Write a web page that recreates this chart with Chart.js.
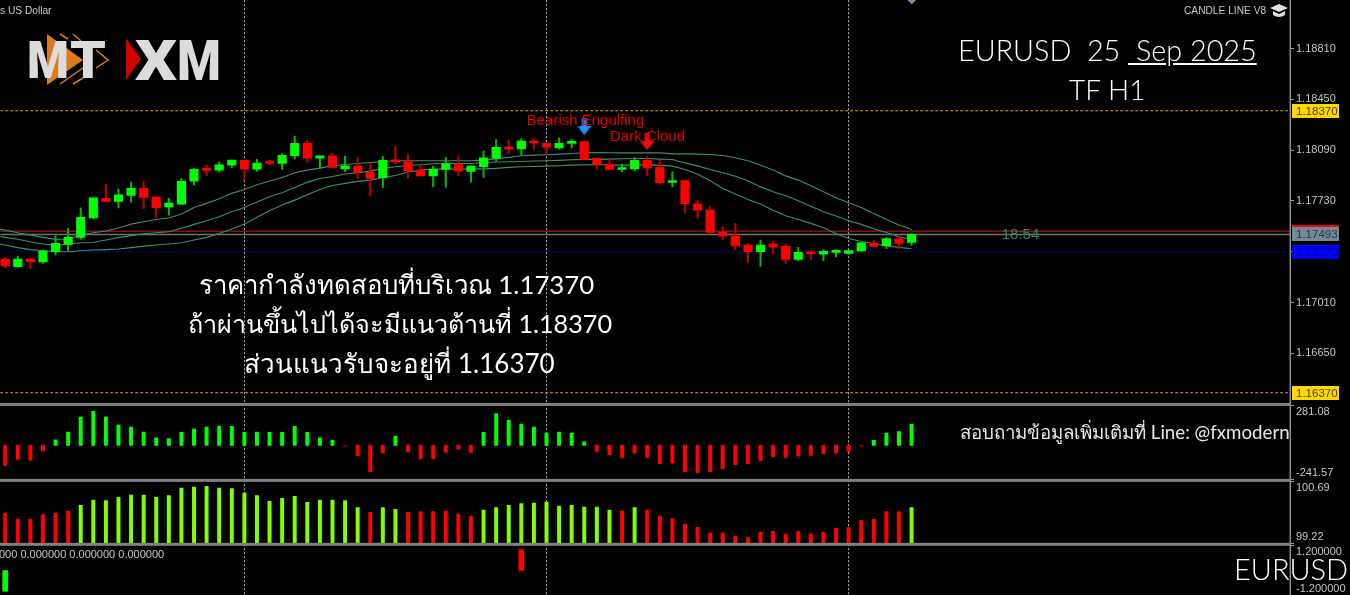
<!DOCTYPE html>
<html><head><meta charset="utf-8">
<script src="https://cdn.jsdelivr.net/npm/chart.js@4"></script>
<style>
html,body{margin:0;padding:0;background:#000;overflow:hidden}
#wrap{position:relative;width:1350px;height:595px}
canvas{position:absolute;left:0;top:0}
.t{position:absolute;color:#fff;white-space:nowrap;font-family:"Lato","Noto Sans",sans-serif;font-weight:300;line-height:1}
.n{font-weight:400}
.s{font-family:"Liberation Sans",sans-serif;color:#c8c8c8}
svg{position:absolute;left:0;top:0}
</style></head><body><div id="wrap">
<canvas id="c" width="1350" height="595"></canvas>
<svg width="1350" height="595" viewBox="0 0 1350 595">
 <polygon points="47,34 83,60 47,85" fill="#de7a1e"/>
 <polyline points="60,34 68,39" fill="none" stroke="#de7a1e" stroke-width="1.5"/>
 <polyline points="73,34 81,41" fill="none" stroke="#de7a1e" stroke-width="1.5"/>
 <polyline points="96,50 108,60 96,68" fill="none" stroke="#de7a1e" stroke-width="1.5"/>
 <polyline points="60,84 83,68" fill="none" stroke="#de7a1e" stroke-width="1.5"/>
 <polyline points="73,84 83,78" fill="none" stroke="#de7a1e" stroke-width="1.5"/>
 <text x="27" y="78" font-family="Roboto" font-weight="900" font-size="52" fill="#dcdcdc" textLength="42" lengthAdjust="spacingAndGlyphs">M</text>
 <text x="70" y="78" font-family="Roboto" font-weight="900" font-size="52" fill="#dcdcdc" textLength="36" lengthAdjust="spacingAndGlyphs">T</text>
 <polygon points="126,38 141,59 126,80" fill="#d40000"/>
 <text x="135" y="80" font-family="Roboto" font-weight="900" font-size="56" fill="#dcdcdc" textLength="42" lengthAdjust="spacingAndGlyphs">X</text>
 <text x="177" y="80" font-family="Roboto" font-weight="900" font-size="56" fill="#dcdcdc" textLength="44" lengthAdjust="spacingAndGlyphs">M</text>
 <path d="M1270 8 L1279 4 L1288 8 L1279 12 Z M1273 11 L1273 15 Q1279 19 1285 15 L1285 11 L1279 14 Z" fill="#e0e0e0"/>
 <polygon points="907.5,0 916,0 911.8,4.5" fill="#7090b0"/>
</svg>
<div class="t s" style="left:0;top:6px;font-size:10.2px">s US Dollar</div>
<div class="t s" style="left:1184px;top:6px;font-size:10.2px">CANDLE LINE V8</div>
<div class="t" style="left:958px;top:36px;font-size:28.8px">EURUSD&nbsp; 25 <u>&nbsp;Sep 2025</u></div>
<div class="t" style="left:1069px;top:75px;font-size:28px">TF H1</div>
<div class="t n" style="left:0;width:793px;text-align:center;top:272px;font-size:25.8px">ราคากำลังทดสอบที่บริเวณ 1.17370</div>
<div class="t n" style="left:0;width:800px;text-align:center;top:311px;font-size:25.2px">ถ้าผ่านขึ้นไปได้จะมีแนวต้านที่ 1.18370</div>
<div class="t n" style="left:0;width:799px;text-align:center;top:350px;font-size:26px">ส่วนแนวรับจะอยู่ที่ 1.16370</div>
<div class="t n" style="left:960px;top:423px;font-size:18.7px;color:#e8e8e8">สอบถามข้อมูลเพิ่มเติมที่ Line: @fxmodern</div>
<div class="t s" style="left:-1px;top:549px;font-size:11px">000 0.000000 0.000000 0.000000</div>
<div class="t" style="left:1234px;top:554px;font-size:29px">EURUSD</div>
</div>
<script>
// ---- data ----
const opens=[1.17318,1.17264,1.17318,1.17297,1.17370,1.17422,1.17472,1.17609,1.17748,1.17727,1.17770,1.17819,1.17758,1.17687,1.17708,1.17871,1.17956,1.17949,1.17984,1.18018,1.17956,1.18006,1.17996,1.18051,1.18138,
1.18034,1.18051,1.17958,1.17977,1.17935,1.17895,1.18018,1.18010,1.17949,1.17907,1.17956,1.17989,1.17940,1.17973,1.18032,1.18110,1.18100,1.18155,1.18138,1.18107,1.18138,1.18152,1.18032,
1.17989,1.17953,1.17958,1.18019,1.17970,1.17861,1.17875,1.17708,1.17665,1.17509,1.17481,1.17417,1.17370,1.17424,1.17408,1.17316,1.17368,1.17353,1.17365,1.17358,1.17375,1.17431,1.17412,1.17462,1.17436];
const highs=[1.17330,1.17340,1.17318,1.17382,1.17481,1.17536,1.17682,1.17753,1.17850,1.17814,1.17864,1.17871,1.17765,1.17748,1.17890,1.17963,1.17984,1.18008,1.18020,1.18018,1.18025,1.18018,1.18067,1.18190,1.18162,
1.18051,1.18069,1.18048,1.18039,1.17996,1.18044,1.18114,1.18060,1.17989,1.17977,1.18039,1.18044,1.17977,1.18084,1.18166,1.18162,1.18173,1.18173,1.18138,1.18178,1.18166,1.18159,1.18032,
1.18031,1.17991,1.18038,1.18043,1.18019,1.17937,1.17875,1.17736,1.17693,1.17547,1.17571,1.17429,1.17453,1.17448,1.17424,1.17401,1.17377,1.17386,1.17386,1.17379,1.17434,1.17450,1.17471,1.17471,1.17500];
const lows=[1.17257,1.17259,1.17252,1.17288,1.17347,1.17377,1.17458,1.17602,1.17727,1.17680,1.17722,1.17675,1.17614,1.17630,1.17703,1.17843,1.17911,1.17935,1.17965,1.17878,1.17940,1.17984,1.17954,1.18029,1.18003,
1.17961,1.17968,1.17937,1.17890,1.17767,1.17826,1.17992,1.17895,1.17907,1.17831,1.17826,1.17909,1.17864,1.17897,1.18013,1.18067,1.18055,1.18098,1.18060,1.18098,1.18107,1.18025,1.17958,
1.17953,1.17937,1.17944,1.17908,1.17849,1.17830,1.17646,1.17608,1.17497,1.17453,1.17382,1.17292,1.17268,1.17358,1.17287,1.17306,1.17316,1.17306,1.17334,1.17351,1.17370,1.17408,1.17391,1.17394,1.17417];
const closes=[1.17269,1.17318,1.17299,1.17375,1.17429,1.17472,1.17614,1.17753,1.17727,1.17774,1.17819,1.17755,1.17682,1.17715,1.17869,1.17954,1.17947,1.17987,1.18020,1.17956,1.17999,1.17996,1.18053,1.18138,1.18034,
1.18051,1.17968,1.17980,1.17932,1.17890,1.18018,1.18008,1.17944,1.17907,1.17954,1.17992,1.17944,1.17977,1.18036,1.18110,1.18098,1.18155,1.18143,1.18112,1.18138,1.18147,1.18025,1.17989,
1.17953,1.17963,1.18019,1.17965,1.17859,1.17875,1.17710,1.17665,1.17507,1.17481,1.17412,1.17370,1.17417,1.17403,1.17316,1.17365,1.17356,1.17372,1.17372,1.17379,1.17434,1.17408,1.17464,1.17429,1.17493];
// the three averages also run off the left edge: first value belongs one bar before the first candle
const maUpper=[1.17535,1.17524,1.17505,1.17488,1.17472,1.17458,1.17460,1.17488,1.17505,1.17517,1.17538,1.17566,1.17583,1.17599,1.17609,1.17637,1.17684,1.17713,1.17746,1.17784,1.17812,1.17845,1.17871,1.17897,1.17930,1.17949,
1.17963,1.17980,1.17989,1.17996,1.18003,1.18010,1.18015,1.18015,1.18015,1.18015,1.18015,1.18015,1.18015,1.18020,1.18029,1.18039,1.18051,1.18055,1.18058,1.18062,1.18067,1.18072,1.18074,
1.18072,1.18071,1.18071,1.18071,1.18071,1.18064,1.18064,1.18062,1.18060,1.18053,1.18036,1.18015,1.17984,1.17949,1.17908,1.17878,1.17838,1.17795,1.17753,1.17717,1.17684,1.17642,1.17599,1.17559,1.17528];
const maMiddle=[1.17486,1.17472,1.17458,1.17441,1.17425,1.17413,1.17425,1.17434,1.17436,1.17453,1.17470,1.17484,1.17498,1.17505,1.17512,1.17536,1.17564,1.17590,1.17618,1.17654,1.17684,1.17722,1.17760,1.17788,1.17826,1.17862,
1.17890,1.17904,1.17921,1.17930,1.17942,1.17961,1.17973,1.17982,1.17987,1.17994,1.17996,1.17996,1.17996,1.18001,1.18006,1.18008,1.18010,1.18013,1.18015,1.18018,1.18022,1.18025,1.18025,
1.18027,1.18029,1.18031,1.18031,1.18027,1.18024,1.18000,1.17979,1.17953,1.17930,1.17906,1.17873,1.17830,1.17795,1.17767,1.17731,1.17693,1.17653,1.17623,1.17590,1.17564,1.17533,1.17507,1.17476,1.17457];
const maLower=[1.17432,1.17418,1.17399,1.17385,1.17377,1.17370,1.17370,1.17377,1.17382,1.17385,1.17389,1.17399,1.17410,1.17418,1.17425,1.17434,1.17453,1.17472,1.17500,1.17531,1.17566,1.17614,1.17661,1.17701,1.17736,1.17774,
1.17812,1.17840,1.17855,1.17869,1.17878,1.17897,1.17911,1.17935,1.17949,1.17956,1.17956,1.17956,1.17956,1.17958,1.17961,1.17968,1.17973,1.17975,1.17977,1.17980,1.17984,1.17987,1.17989,
1.17984,1.17984,1.17984,1.17984,1.17984,1.17977,1.17953,1.17920,1.17873,1.17819,1.17779,1.17741,1.17708,1.17665,1.17625,1.17599,1.17571,1.17540,1.17500,1.17464,1.17443,1.17427,1.17412,1.17401,1.17391];
const cciValues=[-141,-99,-104,-38,40,94,200,240,200,144,129,94,54,49,92,115,129,137,134,92,94,92,92,134,92,54,35,-7,-75,-186,-54,66,-45,-94,-94,-49,-26,-49,92,224,179,151,129,87,94,87,26,-42,-68,-85,-54,-85,-129,-125,-186,-193,-186,-165,-137,-129,-108,-80,-85,-75,-71,-59,-54,-45,-7,35,87,97,151];
const strengthValues=[99.931,99.789,99.789,99.899,99.931,99.986,100.121,100.247,100.231,100.31,100.366,100.366,100.31,100.35,100.531,100.555,100.571,100.531,100.516,100.413,100.35,100.215,100.287,100.334,100.192,100.247,100.247,100.231,100.065,99.955,100.065,100.026,99.955,99.97,99.97,99.986,99.915,99.86,100.01,100.065,100.121,100.16,100.176,100.2,100.105,100.121,100.081,100.081,100.01,99.986,100.065,100.01,99.86,99.805,99.67,99.599,99.465,99.465,99.394,99.354,99.489,99.504,99.441,99.504,99.441,99.489,99.576,99.591,99.765,99.789,99.97,99.97,100.065];
const strengthRising=[0,0,0,0,0,0,1,1,1,1,1,1,1,1,1,1,1,1,1,1,1,1,1,1,1,1,1,1,1,0,1,1,0,0,0,0,0,0,1,1,1,1,1,1,1,1,1,1,1,0,1,0,0,0,0,0,0,0,0,0,0,0,0,0,0,0,0,0,0,0,0,0,1];
const signalIndex=[0,41];
const signalValues=[-1,1];
const supportResistance=[1.18370,1.16370];
const pivotLevel=[1.17370];
const bidLevel=[1.17515];
const lastPrice=[1.17493];
const priceTicks=[1.18810,1.18450,1.18090,1.17730,1.17370,1.17010,1.16650];
const cciTicks=[281.08,-241.57];
const strengthTicks=[100.69,99.22];
const signalTicks=[1.2,-1.2];
const gridIndex=[19,43,67];
const patternLabels=['Bearish Engulfing','Dark Cloud'];
const patternIndex=[46,51];
const patternArrow=[1.18254,1.18147];
const patternText=[1.18299,1.18182];
const timerLabel='18:54';

const GREEN='#00ff00',RED='#ff0000',LIME='#7fff00';
const idx=opens.map((_,i)=>i);
const isUp=i=>closes[i]>=opens[i];
function arrow(color){
  const c=document.createElement('canvas');c.width=16;c.height=18;const g=c.getContext('2d');
  g.fillStyle=color;g.beginPath();
  g.moveTo(5.5,0);g.lineTo(10.5,0);g.lineTo(10.5,8);g.lineTo(15,8);g.lineTo(8,17);g.lineTo(1,8);g.lineTo(5.5,8);g.closePath();g.fill();
  return c;
}
const barBase={type:'bar',grouped:false,xAxisID:'x',animation:false};
const lineBase={type:'line',xAxisID:'x',pointRadius:0,pointBorderWidth:0,pointHoverRadius:0,tension:0,fill:false,yAxisID:'yPrice'};
const span=(v)=>[{x:-0.4,y:v},{x:102.1,y:v}];
const datasets=[
 ...supportResistance.map(v=>({...lineBase,data:span(v),borderColor:'#d9a400',borderWidth:1,borderDash:[3,2],order:9})),
 {...lineBase,data:span(pivotLevel[0]),borderColor:'#0000e0',borderWidth:1,borderDash:[2,2],order:9},
 {...lineBase,data:span(bidLevel[0]),borderColor:'#8a1010',borderWidth:1.5,order:9},
 {...lineBase,data:span(lastPrice[0]),borderColor:'#6e7278',borderWidth:1.5,order:9},
 ...[maUpper,maMiddle,maLower].map(a=>({...lineBase,data:a.map((y,i)=>({x:i-1,y})),borderColor:'#3d8f6c',borderWidth:1.1,order:7})),
 {...barBase,yAxisID:'yPrice',data:idx.map(i=>({x:i,y:[lows[i],highs[i]]})),backgroundColor:idx.map(i=>isUp(i)?'#10b010':'#c00000'),barThickness:1.4,order:6},
 {...barBase,yAxisID:'yPrice',data:idx.map(i=>({x:i,y:[opens[i],closes[i]]})),backgroundColor:idx.map(i=>isUp(i)?GREEN:RED),barThickness:8.5,minBarLength:2,order:5},
 {type:'scatter',xAxisID:'x',yAxisID:'yPrice',data:patternIndex.map((x,i)=>({x,y:patternArrow[i]})),pointStyle:[arrow('#1e8fff'),arrow('#ee1010')],pointRadius:0.2,pointHoverRadius:0,pointBorderWidth:0,order:1},
 {...barBase,yAxisID:'yCci',data:idx.map(i=>({x:i,y:cciValues[i]})),backgroundColor:idx.map(i=>cciValues[i]>=0?GREEN:(Math.abs(cciValues[i])<10?'#900000':RED)),barThickness:3.3,order:4},
 {...barBase,yAxisID:'yStrength',data:idx.map(i=>({x:i,y:strengthValues[i]})),backgroundColor:idx.map(i=>strengthRising[i]?LIME:RED),barThickness:3.3,order:4},
 {...barBase,yAxisID:'ySignal',data:signalIndex.map((x,i)=>({x,y:signalValues[i]})),backgroundColor:signalValues.map(v=>v<0?GREEN:RED),barThickness:5,order:4}
];
const axisCommon=(ticks,fmt,weight,min,max,order)=>({
 type:'linear',position:'right',stack:'panes',stackWeight:weight,weight:order,min,max,offset:false,
 border:{display:false},
 grid:{drawOnChartArea:false,drawTicks:true,tickLength:4,tickColor:'#9a9a9a',tickWidth:1},
 ticks:{autoSkip:false,padding:2,color:'#c4c4c4',font:{family:'"Liberation Sans"',size:11},callback:fmt,maxRotation:0},
 afterBuildTicks:a=>{a.ticks=ticks.map(value=>({value}));},
 afterFit:a=>{a.width=60;a.paddingTop=0;a.paddingBottom=0;}
});
const edgeLabel=(digits,top)=>v=>{const s=v.toFixed(digits);return v===top?['',s]:[s,''];};
const paneChrome={id:'paneChrome',afterDraw(ch){
 const g=ch.ctx,a=ch.chartArea,sx=ch.scales.x,sy=ch.scales.yPrice;
 g.save();
 // panel separators and right axis line
 g.fillStyle='#808080';
 ['yCci','yStrength','ySignal'].forEach(k=>{g.fillRect(0,ch.scales[k].top-1.5,a.right,3);});
 g.fillStyle='#8c8c8c';g.fillRect(a.right-0.5,0,1.5,595);
 // price tags
 const tag=(v,bg,fg)=>{const y=Math.round(sy.getPixelForValue(v));g.fillStyle=bg;g.fillRect(1292,y-7,47,14);g.fillStyle=fg;g.font='11.5px "Liberation Sans"';g.textAlign='left';g.textBaseline='middle';g.fillText(v.toFixed(5),1296,y+0.5);};
 supportResistance.forEach(v=>tag(v,'#ffd700','#4a3c00'));
 const lp=lastPrice[0];tag(lp,'#76899b','#2a333c');
 g.fillStyle='#ff0000';g.fillRect(1292,Math.round(sy.getPixelForValue(lp))-9,47,2);
 tag(pivotLevel[0],'#0000ff','#00008a');
 // pattern labels
 g.font='15px "Liberation Sans"';g.fillStyle='#e80000';g.textAlign='center';g.textBaseline='middle';
 patternLabels.forEach((s,i)=>g.fillText(s,[585.5,647.5][i],sy.getPixelForValue(patternText[i])));
 // timer
 g.font='15px "Liberation Sans"';g.fillStyle='#2e8b57';g.fillText(timerLabel,1020.5,sy.getPixelForValue(lastPrice[0]));
 g.restore();
}};
new Chart(document.getElementById('c'),{
 data:{datasets},
 plugins:[paneChrome],
 options:{
  responsive:false,animation:false,devicePixelRatio:1,
  layout:{padding:0},
  plugins:{legend:{display:false},tooltip:{enabled:false},title:{display:false}},
  scales:{
   x:{type:'linear',position:'bottom',min:-0.397,max:102.06,offset:false,
      border:{display:false,dash:[2,2]},
      grid:{color:'#b4b4b4',lineWidth:1,drawTicks:false,display:true,offset:false},
      ticks:{display:false},
      afterBuildTicks:a=>{a.ticks=gridIndex.map(value=>({value}));},
      afterFit:a=>{a.height=0;a.paddingLeft=0;a.paddingRight=0;}},
   yPrice:axisCommon(priceTicks,v=>v.toFixed(5),404.5,1.16287,1.19154,0),
   yCci:axisCommon(cciTicks,edgeLabel(2,281.08),76,-247.2,289.5,1),
   yStrength:axisCommon(strengthTicks,edgeLabel(2,100.69),64,99.196,100.713,2),
   ySignal:axisCommon(signalTicks,edgeLabel(6,1.2),50.5,-1.18,1.273,3)
  }
 }
});
</script></body></html>
